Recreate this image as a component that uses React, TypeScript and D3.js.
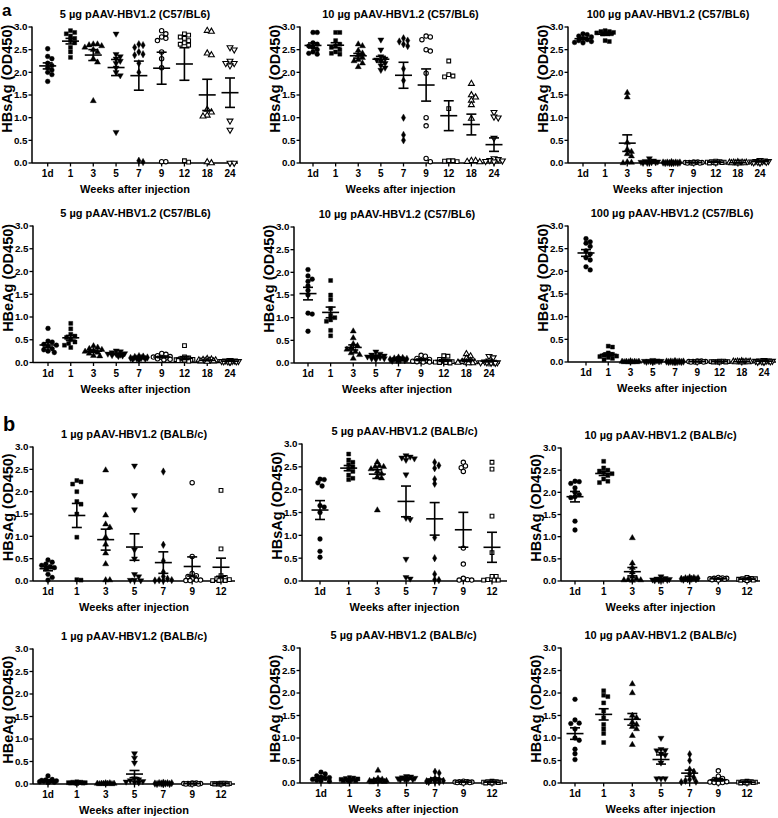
import React from "react";
import * as d3 from "d3";

const catsC57 = ["1d", "1", "3", "5", "7", "9", "12", "18", "24"];
const catsBALB = ["1d", "1", "3", "5", "7", "9", "12"];
const yTicks = [0, 0.5, 1.0, 1.5, 2.0, 2.5, 3.0];

const hbsC57_5 = [
  [2.52, 2.35, 2.3, 2.2, 2.15, 2.1, 2.05, 2.0, 1.95, 1.8],
  [2.92, 2.88, 2.85, 2.8, 2.75, 2.7, 2.65, 2.55, 2.45, 2.33],
  [2.62, 2.62, 2.6, 2.58, 2.55, 2.5, 2.45, 2.3, 2.22, 1.37],
  [2.85, 2.4, 2.35, 2.3, 2.25, 2.2, 2.1, 2.0, 1.93, 0.68],
  [2.62, 2.6, 2.55, 2.45, 2.4, 2.38, 2.2, 2.0, 0.05, 0.02],
  [2.92, 2.85, 2.78, 2.75, 2.7, 2.45, 2.3, 2.1, 0.03, 0.03],
  [2.85, 2.82, 2.78, 2.75, 2.7, 2.65, 2.62, 2.6, 0.05, 0.02],
  [2.92, 2.9, 2.42, 2.38, 1.18, 1.12, 1.05, 1.03, 0.02, 0.0],
  [2.55, 2.5, 2.25, 2.2, 2.2, 2.15, 0.93, 0.73, 0.0, 0.0],
];
const hbsC57_10 = [
  [2.88, 2.88, 2.65, 2.62, 2.58, 2.55, 2.5, 2.45, 2.42, 2.4],
  [2.88, 2.88, 2.7, 2.62, 2.58, 2.55, 2.5, 2.45, 2.42, 2.4],
  [2.62, 2.58, 2.48, 2.42, 2.38, 2.32, 2.28, 2.25, 2.2, 2.12],
  [2.72, 2.5, 2.35, 2.3, 2.28, 2.25, 2.2, 2.15, 2.1, 2.05],
  [2.75, 2.7, 2.68, 2.62, 2.58, 2.08, 1.82, 1.0, 0.62, 0.5],
  [2.8, 2.78, 2.72, 2.5, 2.47, 1.98, 1.0, 0.82, 0.1, 0.03],
  [2.25, 1.95, 1.92, 1.9, 1.2, 0.05, 0.05, 0.04, 0.03],
  [1.75, 1.5, 1.45, 1.38, 1.28, 0.98, 0.05, 0.05, 0.03, 0.02],
  [1.12, 1.02, 1.0, 0.55, 0.1, 0.08, 0.06, 0.05, 0.04, 0.03],
];
const hbsC57_100 = [
  [2.85, 2.83, 2.8, 2.78, 2.75, 2.72, 2.7, 2.68, 2.66, 2.65],
  [2.92, 2.9, 2.9, 2.88, 2.87, 2.86, 2.85, 2.85, 2.7, 2.68],
  [1.55, 1.45, 0.45, 0.3, 0.25, 0.2, 0.15, 0.02, 0.01, 0.0],
  [0.1, 0.05, 0.04, 0.03, 0.02, 0.02, 0.01, 0.01, 0.0, 0.0],
  [0.02, 0.01, 0.01, 0.01, 0.01, 0.0, 0.0, 0.0, 0.0, 0.0],
  [0.02, 0.02, 0.01, 0.01, 0.01, 0.01, 0.0, 0.0, 0.0, 0.0],
  [0.04, 0.03, 0.03, 0.02, 0.02, 0.02, 0.01, 0.01, 0.0, 0.0],
  [0.02, 0.01, 0.01, 0.01, 0.01, 0.0, 0.0, 0.0, 0.0, 0.0],
  [0.06, 0.05, 0.04, 0.04, 0.03, 0.03, 0.02, 0.02, 0.01, 0.01],
];
const hbeC57_5 = [
  [0.75, 0.47, 0.45, 0.4, 0.38, 0.35, 0.3, 0.28, 0.25, 0.22],
  [0.86, 0.74, 0.62, 0.58, 0.55, 0.5, 0.45, 0.42, 0.38, 0.33],
  [0.36, 0.33, 0.3, 0.28, 0.26, 0.24, 0.22, 0.2, 0.15, 0.14],
  [0.26, 0.24, 0.22, 0.2, 0.19, 0.18, 0.17, 0.16, 0.15, 0.14],
  [0.14, 0.13, 0.12, 0.11, 0.1, 0.1, 0.09, 0.08, 0.07, 0.06],
  [0.2, 0.18, 0.15, 0.13, 0.12, 0.11, 0.1, 0.08, 0.07, 0.06],
  [0.37, 0.12, 0.1, 0.08, 0.07, 0.06, 0.05, 0.05, 0.04, 0.03],
  [0.08, 0.07, 0.06, 0.05, 0.05, 0.04, 0.04, 0.03, 0.03, 0.02],
  [0.05, 0.04, 0.04, 0.03, 0.03, 0.03, 0.02, 0.02, 0.02, 0.01],
];
const hbeC57_10 = [
  [2.06, 1.92, 1.85, 1.8, 1.7, 1.6, 1.5, 1.1, 1.08, 0.7],
  [1.82, 1.5, 1.4, 1.2, 1.05, 1.0, 0.95, 0.92, 0.72, 0.6],
  [0.7, 0.55, 0.42, 0.38, 0.33, 0.3, 0.25, 0.22, 0.18, 0.1],
  [0.25, 0.2, 0.18, 0.16, 0.15, 0.14, 0.12, 0.1, 0.1, 0.08],
  [0.12, 0.11, 0.1, 0.09, 0.08, 0.07, 0.07, 0.06, 0.05, 0.05],
  [0.17, 0.15, 0.1, 0.08, 0.06, 0.05, 0.04, 0.03, 0.02, 0.02],
  [0.16, 0.15, 0.08, 0.05, 0.04, 0.03, 0.02, 0.01, 0.01, 0.0],
  [0.2, 0.15, 0.1, 0.05, 0.03, 0.02, 0.01, 0.01, 0.0, 0.0],
  [0.15, 0.12, 0.05, 0.03, 0.02, 0.01, 0.01, 0.01, 0.0, 0.0],
];
const hbeC57_100 = [
  [2.72, 2.65, 2.62, 2.55, 2.45, 2.38, 2.3, 2.25, 2.1, 2.03],
  [0.35, 0.33, 0.2, 0.17, 0.15, 0.13, 0.12, 0.1, 0.08, 0.05],
  [0.02, 0.01, 0.01, 0.01, 0.01, 0.0, 0.0, 0.0, 0.0, 0.0],
  [0.04, 0.03, 0.02, 0.02, 0.02, 0.01, 0.01, 0.01, 0.0, 0.0],
  [0.02, 0.01, 0.01, 0.01, 0.01, 0.0, 0.0, 0.0, 0.0, 0.0],
  [0.02, 0.02, 0.01, 0.01, 0.01, 0.01, 0.0, 0.0, 0.0, 0.0],
  [0.02, 0.02, 0.01, 0.01, 0.01, 0.01, 0.0, 0.0, 0.0, 0.0],
  [0.02, 0.01, 0.01, 0.01, 0.01, 0.0, 0.0, 0.0, 0.0, 0.0],
  [0.04, 0.03, 0.03, 0.02, 0.02, 0.02, 0.01, 0.01, 0.0, 0.0],
];
const hbsBALB_1 = [
  [0.47, 0.42, 0.38, 0.35, 0.32, 0.3, 0.27, 0.15, 0.08, 0.02],
  [2.25, 2.22, 2.17, 2.0, 1.78, 1.72, 1.5, 0.98, 0.03, 0.02],
  [2.48, 1.47, 1.27, 1.2, 0.98, 0.82, 0.62, 0.38, 0.02, 0.02],
  [2.58, 1.92, 1.6, 0.7, 0.5, 0.15, 0.1, 0.02, 0.02, 0.01],
  [2.45, 0.81, 0.45, 0.2, 0.1, 0.05, 0.02, 0.02, 0.01, 0.01],
  [2.2, 0.55, 0.17, 0.12, 0.1, 0.05, 0.02, 0.02, 0.01, 0.01],
  [2.03, 0.72, 0.12, 0.08, 0.05, 0.03, 0.02, 0.01, 0.01, 0.01],
];
const hbsBALB_5 = [
  [2.23, 2.22, 2.15, 2.08, 1.65, 1.62, 1.5, 0.92, 0.65, 0.52],
  [2.78, 2.65, 2.6, 2.55, 2.5, 2.45, 2.4, 2.32, 2.25, 2.22],
  [2.6, 2.52, 2.5, 2.5, 2.45, 2.4, 2.35, 2.28, 2.25, 1.55],
  [2.75, 2.72, 2.7, 2.68, 2.65, 2.33, 1.38, 1.35, 0.48, 0.08, 0.05],
  [2.6, 2.53, 2.47, 2.23, 2.13, 0.95, 0.5, 0.15, 0.03, 0.02],
  [2.6, 2.52, 2.48, 2.4, 0.72, 0.37, 0.06, 0.03, 0.02, 0.02],
  [2.6, 2.45, 1.42, 0.62, 0.1, 0.1, 0.03, 0.02, 0.02, 0.02],
];
const hbsBALB_10 = [
  [2.25, 2.24, 2.2, 2.1, 2.0, 1.95, 1.9, 1.88, 1.35, 1.15],
  [2.7, 2.55, 2.5, 2.48, 2.45, 2.42, 2.38, 2.3, 2.25, 2.22],
  [0.97, 0.4, 0.3, 0.2, 0.1, 0.05, 0.03, 0.02, 0.02, 0.01],
  [0.1, 0.06, 0.05, 0.04, 0.03, 0.03, 0.02, 0.02, 0.01, 0.01],
  [0.08, 0.07, 0.06, 0.06, 0.05, 0.05, 0.04, 0.04, 0.03, 0.03],
  [0.08, 0.07, 0.06, 0.06, 0.05, 0.05, 0.04, 0.04, 0.03, 0.02],
  [0.08, 0.06, 0.05, 0.05, 0.04, 0.04, 0.03, 0.02, 0.02, 0.01],
];
const hbeBALB_1 = [
  [0.18, 0.1, 0.09, 0.08, 0.07, 0.06, 0.06, 0.05, 0.04, 0.03],
  [0.05, 0.04, 0.04, 0.03, 0.03, 0.03, 0.02, 0.02, 0.02, 0.01],
  [0.02, 0.02, 0.01, 0.01, 0.01, 0.01, 0.01, 0.0, 0.0, 0.0],
  [0.68, 0.58, 0.47, 0.12, 0.1, 0.08, 0.06, 0.05, 0.04, 0.03],
  [0.03, 0.02, 0.02, 0.02, 0.01, 0.01, 0.01, 0.0, 0.0, 0.0],
  [0.02, 0.02, 0.01, 0.01, 0.01, 0.01, 0.0, 0.0, 0.0, 0.0],
  [0.02, 0.02, 0.01, 0.01, 0.01, 0.01, 0.0, 0.0, 0.0, 0.0],
];
const hbeBALB_5 = [
  [0.24, 0.2, 0.16, 0.13, 0.12, 0.1, 0.08, 0.06, 0.05, 0.04],
  [0.12, 0.11, 0.1, 0.09, 0.08, 0.07, 0.06, 0.05, 0.05, 0.04],
  [0.28, 0.1, 0.08, 0.06, 0.05, 0.05, 0.04, 0.03, 0.03, 0.02],
  [0.15, 0.14, 0.12, 0.11, 0.1, 0.1, 0.09, 0.08, 0.07, 0.06],
  [0.25, 0.22, 0.1, 0.08, 0.06, 0.05, 0.04, 0.03, 0.02, 0.02],
  [0.04, 0.03, 0.03, 0.02, 0.02, 0.02, 0.01, 0.01, 0.01, 0.0],
  [0.04, 0.03, 0.03, 0.02, 0.02, 0.02, 0.01, 0.01, 0.0, 0.0],
];
const hbeBALB_10 = [
  [1.86, 1.4, 1.33, 1.32, 1.2, 1.0, 0.95, 0.75, 0.65, 0.52],
  [2.05, 1.95, 1.92, 1.78, 1.6, 1.45, 1.3, 1.2, 1.1, 0.9],
  [2.2, 2.0, 1.5, 1.45, 1.35, 1.3, 1.25, 1.2, 1.05, 0.85],
  [1.0, 0.75, 0.73, 0.72, 0.65, 0.62, 0.45, 0.1, 0.1, 0.1],
  [0.64, 0.5, 0.3, 0.25, 0.2, 0.12, 0.08, 0.05, 0.03, 0.02],
  [0.27, 0.15, 0.1, 0.08, 0.05, 0.03, 0.02, 0.01, 0.01, 0.0],
  [0.04, 0.03, 0.03, 0.02, 0.02, 0.02, 0.01, 0.01, 0.0, 0.0],
];

const titles = [
  "5 µg pAAV-HBV1.2 (C57/BL6)", "10 µg pAAV-HBV1.2 (C57/BL6)", "100 µg pAAV-HBV1.2 (C57/BL6)",
  "5 µg pAAV-HBV1.2 (C57/BL6)", "10 µg pAAV-HBV1.2 (C57/BL6)", "100 µg pAAV-HBV1.2 (C57/BL6)",
  "1 µg pAAV-HBV1.2 (BALB/c)", "5 µg pAAV-HBV1.2 (BALB/c)", "10 µg pAAV-HBV1.2 (BALB/c)",
  "1 µg pAAV-HBV1.2 (BALB/c)", "5 µg pAAV-HBV1.2 (BALB/c)", "10 µg pAAV-HBV1.2 (BALB/c)",
];
const yLabels = ["HBsAg (OD450)", "HBsAg (OD450)", "HBsAg (OD450)", "HBeAg (OD450)", "HBeAg (OD450)", "HBeAg (OD450)",
  "HBsAg (OD450)", "HBsAg (OD450)", "HBsAg (OD450)", "HBeAg (OD450)", "HBeAg (OD450)", "HBeAg (OD450)"];
const datasets = [hbsC57_5, hbsC57_10, hbsC57_100, hbeC57_5, hbeC57_10, hbeC57_100,
  hbsBALB_1, hbsBALB_5, hbsBALB_10, hbeBALB_1, hbeBALB_5, hbeBALB_10];
const categorySets = [catsC57, catsC57, catsC57, catsC57, catsC57, catsC57,
  catsBALB, catsBALB, catsBALB, catsBALB, catsBALB, catsBALB];

// layout: axis x, y of 3.0, y of 0, first/last category x, axis end, label centre fraction
const layout = [
  { ax: 32, y3: 27, y0: 163, x1: 47.7, x2: 230, xe: 238, lf: 0.38 },
  { ax: 300, y3: 27, y0: 163, x1: 313, x2: 494, xe: 501, lf: 0.38 },
  { ax: 568, y3: 27, y0: 163, x1: 583, x2: 760, xe: 768, lf: 0.38 },
  { ax: 33, y3: 226, y0: 362.5, x1: 48, x2: 230, xe: 238, lf: 0.38 },
  { ax: 294, y3: 227, y0: 363, x1: 308, x2: 489, xe: 500, lf: 0.38 },
  { ax: 568, y3: 226, y0: 362, x1: 586, x2: 764, xe: 776, lf: 0.38 },
  { ax: 33, y3: 447, y0: 581, x1: 48, x2: 221, xe: 235, lf: 0.45 },
  { ax: 302, y3: 444, y0: 581, x1: 320, x2: 492, xe: 507, lf: 0.45 },
  { ax: 561, y3: 448, y0: 581, x1: 575, x2: 747, xe: 760, lf: 0.45 },
  { ax: 33, y3: 649, y0: 784, x1: 48, x2: 221, xe: 235, lf: 0.45 },
  { ax: 300, y3: 648, y0: 783, x1: 321, x2: 492, xe: 507, lf: 0.45 },
  { ax: 561, y3: 648, y0: 783, x1: 575, x2: 747, xe: 760, lf: 0.45 },
];

const FONT = "'Liberation Sans', Arial, Helvetica, sans-serif";

const markerDefs = [
  { type: d3.symbolCircle, size: 18, open: false, rot: 0 },
  { type: d3.symbolSquare, size: 16, open: false, rot: 0 },
  { type: d3.symbolTriangle, size: 16, open: false, rot: 0 },
  { type: d3.symbolTriangle, size: 16, open: false, rot: 180 },
  { type: d3.symbolDiamond, size: 16, open: false, rot: 0 },
  { type: d3.symbolCircle, size: 15, open: true, rot: 0 },
  { type: d3.symbolSquare, size: 14, open: true, rot: 0 },
  { type: d3.symbolTriangle, size: 15, open: true, rot: 0 },
  { type: d3.symbolTriangle, size: 15, open: true, rot: 180 },
];

function swarm(pys: number[], d: number, maxS: number) {
  const step = d / 2;
  const cands: number[] = [0];
  for (let k = 1; k * step <= maxS + 0.01; k++) { cands.push(k * step); cands.push(-k * step); }
  const placed: { x: number; y: number }[] = [];
  return pys.map((py) => {
    let best = 0, bestScore = -Infinity, chosen: number | null = null;
    for (const c of cands) {
      let minD = Infinity;
      for (const p of placed) minD = Math.min(minD, Math.hypot(c - p.x, py - p.y));
      if (minD >= d) { chosen = c; break; }
      if (minD > bestScore) { bestScore = minD; best = c; }
    }
    const x = chosen === null ? best : chosen;
    placed.push({ x, y: py });
    return x;
  });
}

function Panel({ idx }: { idx: number }) {
  const L = layout[idx];
  const cats = categorySets[idx];
  const data = datasets[idx];
  const x = d3.scalePoint<string>().domain(cats).range([L.x1, L.x2]);
  const y = d3.scaleLinear().domain([0, 3]).range([L.y0, L.y3]);
  const cx = (L.ax + L.xe) / 2;
  const labY = L.y3 + L.lf * (L.y0 - L.y3);
  return (
    <g>
      <text x={cx} y={L.y3 - 9} textAnchor="middle" fontSize={11} fontWeight="bold" fontFamily={FONT}>{titles[idx]}</text>
      <line x1={L.ax} x2={L.ax} y1={y(3) - 0.5} y2={y(0)} stroke="#000" strokeWidth={1.5} />
      <line x1={L.ax} x2={L.xe} y1={y(0)} y2={y(0)} stroke="#000" strokeWidth={1.5} />
      {yTicks.map((t) => (
        <g key={t}>
          <line x1={L.ax - 3.5} x2={L.ax} y1={y(t)} y2={y(t)} stroke="#000" strokeWidth={1.3} />
          <text x={L.ax - 4.5} y={y(t)} dy="0.35em" textAnchor="end" fontSize={9.8} fontWeight="bold" fontFamily={FONT}>{t.toFixed(1)}</text>
        </g>
      ))}
      {cats.map((c) => (
        <g key={c}>
          <line x1={x(c)} x2={x(c)} y1={y(0)} y2={y(0) + 3.5} stroke="#000" strokeWidth={1.3} />
          <text x={x(c)} y={y(0) + 14} textAnchor="middle" fontSize={10} fontWeight="bold" fontFamily={FONT}>{c}</text>
        </g>
      ))}
      <text x={cx} y={y(0) + 30} textAnchor="middle" fontSize={11} fontWeight="bold" fontFamily={FONT}>Weeks after injection</text>
      <text transform={`translate(${L.ax - 25},${labY}) rotate(-90)`} textAnchor="middle" dy="0.35em" fontSize={14.5} fontWeight="bold" fontFamily={FONT}>{yLabels[idx]}</text>
      {cats.map((c, ci) => {
        const vals = data[ci];
        const m = markerDefs[ci];
        const path = d3.symbol().type(m.type).size(m.size)() as string;
        const pys = vals.map((v) => y(v));
        const offs = swarm(pys, 4.2, 9);
        const mean = d3.mean(vals) as number;
        const sd = d3.deviation(vals) as number;
        const sem = sd / Math.sqrt(vals.length);
        const xc = x(c) as number;
        return (
          <g key={c}>
            {vals.map((v, i) => (
              <path key={i} d={path}
                transform={`translate(${xc + offs[i]},${pys[i]})${m.rot ? ` rotate(${m.rot})` : ""}`}
                fill={m.open ? "#fff" : "#000"} stroke="#000" strokeWidth={m.open ? 1.1 : 0.4} />
            ))}
            <line x1={xc - 8.5} x2={xc + 8.5} y1={y(mean)} y2={y(mean)} stroke="#000" strokeWidth={1.6} />
            <line x1={xc} x2={xc} y1={y(mean - sem)} y2={y(mean + sem)} stroke="#000" strokeWidth={1.6} />
            <line x1={xc - 5} x2={xc + 5} y1={y(mean + sem)} y2={y(mean + sem)} stroke="#000" strokeWidth={1.6} />
            <line x1={xc - 5} x2={xc + 5} y1={y(mean - sem)} y2={y(mean - sem)} stroke="#000" strokeWidth={1.6} />
          </g>
        );
      })}
    </g>
  );
}

export default function App() {
  return (
    <svg width={778} height={818} style={{ position: "absolute", left: 0, top: 0, background: "#fff" }}>
      <rect width={778} height={818} fill="#fff" />
      <text x={2} y={16} fontSize={17} fontWeight="bold" fontFamily={FONT}>a</text>
      <text x={3} y={431} fontSize={20} fontWeight="bold" fontFamily={FONT}>b</text>
      {layout.map((_, i) => <Panel key={i} idx={i} />)}
    </svg>
  );
}
